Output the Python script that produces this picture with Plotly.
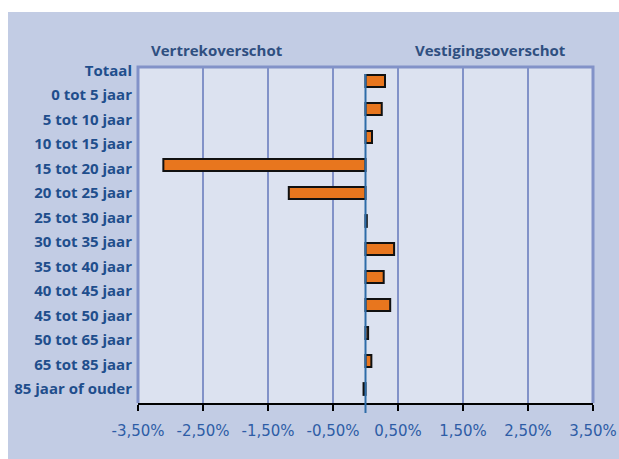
import plotly.graph_objects as go

# ---- data ----
categories = ["Totaal", "0 tot 5 jaar", "5 tot 10 jaar", "10 tot 15 jaar", "15 tot 20 jaar",
              "20 tot 25 jaar", "25 tot 30 jaar", "30 tot 35 jaar", "35 tot 40 jaar",
              "40 tot 45 jaar", "45 tot 50 jaar", "50 tot 65 jaar", "65 tot 85 jaar",
              "85 jaar of ouder"]
bar_values = [0.30, 0.25, 0.10, -3.11, -1.18, 0.02, 0.44, 0.28, 0.38, 0.04, 0.09, -0.03]
tick_values = [-3.5, -2.5, -1.5, -0.5, 0.5, 1.5, 2.5, 3.5]
tick_labels = ["-3,50%", "-2,50%", "-1,50%", "-0,50%", "0,50%", "1,50%", "2,50%", "3,50%"]
left_title = "Vertrekoverschot"
right_title = "Vestigingsoverschot"

W, H = 619, 459
L, R, T, B = 138, 26, 67, 56
plot_w = W - L - R
plot_h = H - T - B

OUTER = "#C2CCE4"
PLOT_BG = "#DCE2F0"
GRID = "#8292C8"
LABEL = "#1F4E8C"


def px_x(p):
    return (p - L) / plot_w


def px_y(p):
    return (T + plot_h - p) / plot_h


fig = go.Figure()
fig.add_trace(go.Bar(
    x=bar_values, y=list(range(len(bar_values))), orientation="h",
    marker=dict(color="#E8761E", line=dict(color="#111111", width=2)),
    width=0.42, yaxis="y", hoverinfo="x",
))
# helper (invisible) trace so the label axis is rendered
fig.add_trace(go.Scatter(
    x=[0] * len(categories), y=list(range(len(categories))), yaxis="y2",
    mode="markers", marker=dict(opacity=0), hoverinfo="skip", showlegend=False,
))

# label axis: label centres at px 70.5 + 24.5*i
lab0, labstep = 70.5, 24.5
y2_top = (T - lab0) / labstep
y2_bot = (T + plot_h - lab0) / labstep

fig.update_layout(
    width=W, height=H, autosize=False,
    margin=dict(l=L, r=R, t=T, b=B, pad=0, autoexpand=False),
    paper_bgcolor=OUTER, plot_bgcolor=PLOT_BG,
    showlegend=False, bargap=0.5,
    xaxis=dict(
        range=[-3.5, 3.5], tickvals=tick_values, ticktext=tick_labels,
        showgrid=True, gridcolor=GRID, gridwidth=2,
        zeroline=False, showline=True, linecolor="#000000", linewidth=2,
        ticks="outside", ticklen=6, tickwidth=2, tickcolor="#000000",
        ticklabelstandoff=7, automargin=False,
        tickfont=dict(family="DejaVu Sans", size=15, color="#2E5DA6"),
        fixedrange=True,
    ),
    yaxis=dict(
        range=[len(bar_values) - 0.5, -0.5], showticklabels=False, showgrid=False,
        zeroline=False, showline=False, fixedrange=True, automargin=False,
    ),
    yaxis2=dict(
        range=[y2_bot, y2_top], overlaying="y", anchor="x", side="left",
        tickvals=list(range(len(categories))), ticktext=categories,
        showgrid=False, zeroline=False, showline=False, ticks="",
        ticklabelstandoff=5, automargin=False,
        tickfont=dict(family="Open Sans", size=15, color=LABEL, weight="bold"),
        fixedrange=True,
    ),
    shapes=[
        # white strips at top and left of picture
        dict(type="rect", xref="paper", yref="paper",
             x0=px_x(-20), x1=px_x(W + 20), y0=px_y(12), y1=px_y(-20),
             fillcolor="white", line=dict(width=0), layer="below"),
        dict(type="rect", xref="paper", yref="paper",
             x0=px_x(-20), x1=px_x(8), y0=px_y(H + 20), y1=px_y(-20),
             fillcolor="white", line=dict(width=0), layer="below"),
        # plot frame (left, top, right)
        dict(type="path", xref="paper", yref="paper",
             path="M 0 0 L 0 1 L 1 1 L 1 0",
             line=dict(color=GRID, width=3), layer="above"),
        # zero line
        dict(type="line", xref="x", yref="paper", x0=0, x1=0,
             y0=px_y(74), y1=px_y(413),
             line=dict(color="#2E6CA8", width=2), layer="above"),
    ],
    annotations=[
        dict(text=left_title, xref="paper", yref="paper",
             x=px_x(217), y=px_y(50), xanchor="center", yanchor="middle",
             showarrow=False,
             font=dict(family="Open Sans", size=15, color="#2F4F80", weight="bold")),
        dict(text=right_title, xref="paper", yref="paper",
             x=px_x(490), y=px_y(50), xanchor="center", yanchor="middle",
             showarrow=False,
             font=dict(family="Open Sans", size=15, color="#2F4F80", weight="bold")),
    ],
)

fig.write_html(
    "out.html",
    config={"responsive": False, "displayModeBar": False},
    post_script="document.body.style.margin='0';document.body.style.overflow='hidden';",
)
